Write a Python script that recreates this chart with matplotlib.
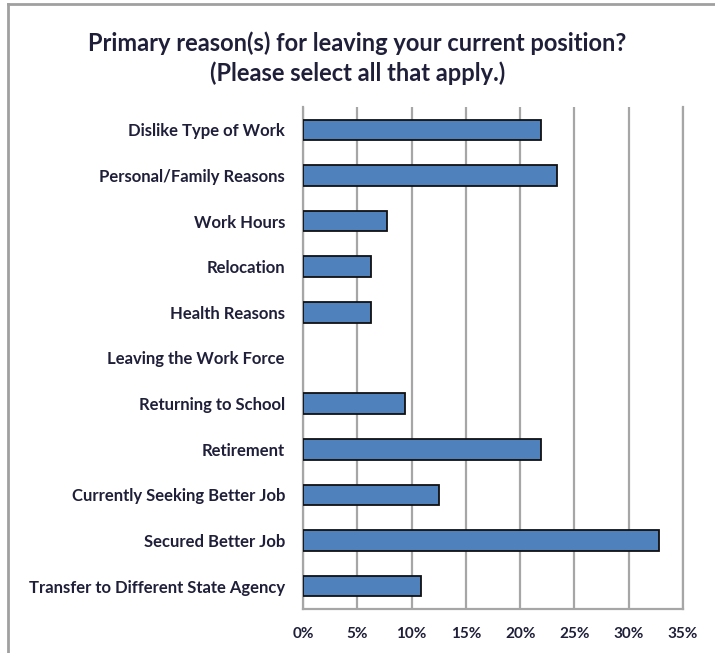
import matplotlib
matplotlib.use("Agg")
import matplotlib.pyplot as plt
from matplotlib.ticker import FuncFormatter, MultipleLocator

categories = [
    "Dislike Type of Work",
    "Personal/Family Reasons",
    "Work Hours",
    "Relocation",
    "Health Reasons",
    "Leaving the Work Force",
    "Returning to School",
    "Retirement",
    "Currently Seeking Better Job",
    "Secured Better Job",
    "Transfer to Different State Agency",
]
percent = [21.9, 23.4, 7.7, 6.3, 6.3, 0.0, 9.4, 21.9, 12.5, 32.8, 10.9]

title = "Primary reason(s) for leaving your current position?\n(Please select all that apply.)"

text_color = "#1f1f3a"
grid_color = "#a6a6a6"
bar_color = "#4f81bd"

plt.rcParams["font.family"] = ["Lato", "DejaVu Sans"]

fig = plt.figure(figsize=(7.15, 6.53), dpi=100)
ax = fig.add_axes([303 / 715, 44 / 653, 380 / 715, 502 / 653])

ypos = list(range(len(categories)))
bars = ax.barh(ypos, percent, height=0.45, color=bar_color, edgecolor="#111111",
               linewidth=1.3, zorder=3)
# an empty category gets no visible outline
for b, v in zip(bars, percent):
    if v == 0:
        b.set_linewidth(0)

ax.set_ylim(len(categories) - 0.5, -0.5)
ax.set_xlim(0, 35)
ax.xaxis.set_major_locator(MultipleLocator(5))
ax.xaxis.set_major_formatter(FuncFormatter(lambda v, p: f"{v:.0f}%"))
ax.set_yticks(ypos)
ax.set_yticklabels(categories)

ax.grid(axis="x", color=grid_color, linewidth=1.6, zorder=0)
ax.tick_params(axis="y", length=0, colors=text_color, labelsize=12, pad=13)
ax.tick_params(axis="x", length=0, colors=text_color, labelsize=11, pad=13)
for lab in ax.get_xticklabels() + ax.get_yticklabels():
    lab.set_fontweight("bold")
    lab.set_color(text_color)

ax.spines["top"].set_visible(False)
for side in ("left", "right", "bottom"):
    ax.spines[side].set_color(grid_color)
    ax.spines[side].set_linewidth(1.6)

fig.text(0.5, 1 - 58 / 653, title, ha="center", va="center", fontsize=17,
         fontweight="bold", color=text_color, linespacing=1.3)

# outer chart frame (top and left edges)
fig.add_artist(plt.Line2D([8 / 715, 1.0], [1 - 4 / 653, 1 - 4 / 653],
                          transform=fig.transFigure, color="#a0a0a0", linewidth=2))
fig.add_artist(plt.Line2D([8 / 715, 8 / 715], [0.0, 1 - 4 / 653],
                          transform=fig.transFigure, color="#a0a0a0", linewidth=2))

fig.savefig("out.png", dpi=100, facecolor="white")
